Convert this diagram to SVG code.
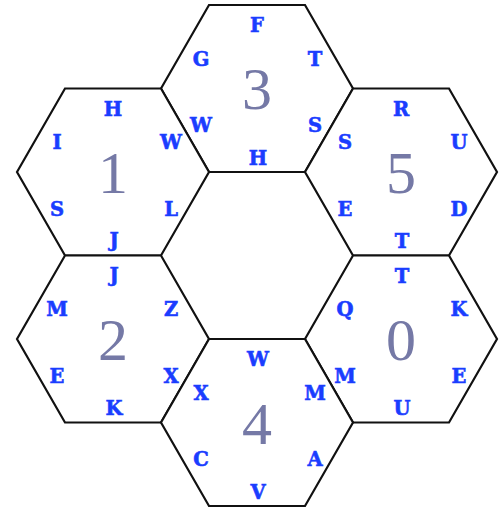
<svg xmlns="http://www.w3.org/2000/svg" width="504" height="510" viewBox="0 0 504 510">
<defs>
<style>
.hex{fill:#ffffff;stroke:#111111;stroke-width:2.2;stroke-linejoin:miter}
.num{font-family:"Liberation Serif","Times New Roman",serif;font-size:60px;fill:#7579a6;text-anchor:middle}
.lt{font-family:"DejaVu Serif","Liberation Serif",serif;font-weight:bold;font-size:19.5px;fill:#1a3dff;stroke:#1a3dff;stroke-width:0.6;text-anchor:middle}
</style>
<polygon id="hexshape" class="hex" points="-96,0 -48,-83.5 48,-83.5 96,0 48,83.5 -48,83.5"/>
</defs>
<rect width="504" height="510" fill="#ffffff"/>
<g id="hex3" transform="translate(257,88.5)">
<use href="#hexshape"/>
<text class="num" x="0" y="20">3</text>
<text class="lt" x="0" y="-56.5">F</text>
<text class="lt" x="-56" y="-23">G</text>
<text class="lt" x="58" y="-23">T</text>
<text class="lt" x="-56" y="43.5">W</text>
<text class="lt" x="58" y="43.5">S</text>
<text class="lt" x="1" y="76">H</text>
</g>
<g id="hex1" transform="translate(113,172)">
<use href="#hexshape"/>
<text class="num" x="0" y="21">1</text>
<text class="lt" x="0" y="-56.5">H</text>
<text class="lt" x="-56" y="-23">I</text>
<text class="lt" x="58" y="-23">W</text>
<text class="lt" x="-56" y="43.5">S</text>
<text class="lt" x="58" y="43.5">L</text>
<text class="lt" x="1" y="75">J</text>
</g>
<g id="hex5" transform="translate(401,172)">
<use href="#hexshape"/>
<text class="num" x="0" y="21">5</text>
<text class="lt" x="0" y="-56.5">R</text>
<text class="lt" x="-56" y="-23">S</text>
<text class="lt" x="58" y="-23">U</text>
<text class="lt" x="-56" y="43.5">E</text>
<text class="lt" x="58" y="43.5">D</text>
<text class="lt" x="1" y="76">T</text>
</g>
<g id="hex2" transform="translate(113,339)">
<use href="#hexshape"/>
<text class="num" x="0" y="21">2</text>
<text class="lt" x="1" y="-57.5">J</text>
<text class="lt" x="-56" y="-23">M</text>
<text class="lt" x="58" y="-23">Z</text>
<text class="lt" x="-56" y="43.5">E</text>
<text class="lt" x="58" y="43.5">X</text>
<text class="lt" x="1" y="76">K</text>
</g>
<g id="hex0" transform="translate(401,339)">
<use href="#hexshape"/>
<text class="num" x="0" y="21">0</text>
<text class="lt" x="1" y="-56.5">T</text>
<text class="lt" x="-56" y="-23">Q</text>
<text class="lt" x="58" y="-23">K</text>
<text class="lt" x="-56" y="43.5">M</text>
<text class="lt" x="58" y="43.5">E</text>
<text class="lt" x="1" y="76">U</text>
</g>
<g id="hex4" transform="translate(257,422.5)">
<use href="#hexshape"/>
<text class="num" x="0" y="21">4</text>
<text class="lt" x="1" y="-56.5">W</text>
<text class="lt" x="-56" y="-23">X</text>
<text class="lt" x="58" y="-23">M</text>
<text class="lt" x="-56" y="43.5">C</text>
<text class="lt" x="58" y="43.5">A</text>
<text class="lt" x="1" y="76">V</text>
</g>
</svg>
